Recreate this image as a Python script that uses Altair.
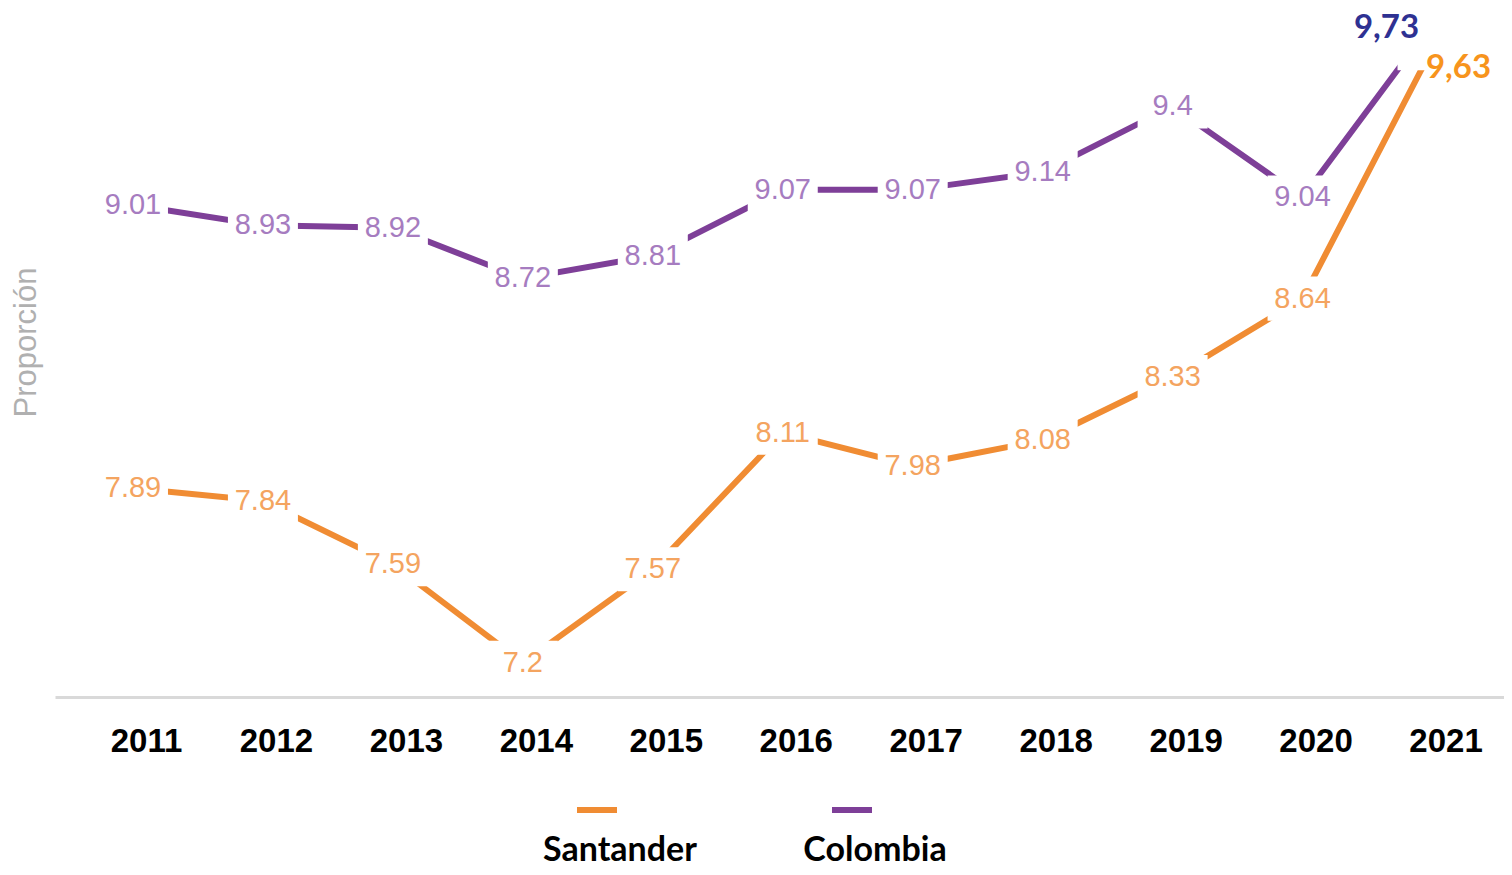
import altair as alt
import pandas as pd

years = [2011, 2012, 2013, 2014, 2015, 2016, 2017, 2018, 2019, 2020, 2021]
santander = [7.89, 7.84, 7.59, 7.2, 7.57, 8.11, 7.98, 8.08, 8.33, 8.64, 9.63]
colombia = [9.01, 8.93, 8.92, 8.72, 8.81, 9.07, 9.07, 9.14, 9.4, 9.04, 9.73]
santander_labels = ["7.89", "7.84", "7.59", "7.2", "7.57", "8.11", "7.98", "8.08", "8.33", "8.64", "9,63"]
colombia_labels = ["9.01", "8.93", "8.92", "8.72", "8.81", "9.07", "9.07", "9.14", "9.4", "9.04", "9,73"]
series_names = ["Santander", "Colombia"]
line_colors = ["#f08c33", "#7e3f98"]

rows = []
for y, v, l in zip(years, santander, santander_labels):
    rows.append({"year": y, "value": v, "label": l, "serie": "Santander"})
for y, v, l in zip(years, colombia, colombia_labels):
    rows.append({"year": y, "value": v, "label": l, "serie": "Colombia"})
df = pd.DataFrame(rows)

x = alt.X("year:Q",
          scale=alt.Scale(domain=[2010.4, 2021.55], nice=False, zero=False),
          axis=alt.Axis(values=years, format="d", title=None, grid=False, ticks=False,
                        domainColor="#d9d9d9", domainWidth=3,
                        labelFont="Liberation Sans", labelFontWeight="bold",
                        labelFontSize=33, labelColor="#000000", labelPadding=28,
                        labelOffset=13))
y = alt.Y("value:Q",
          scale=alt.Scale(domain=[7.065, 9.789], nice=False, zero=False),
          axis=alt.Axis(title="Proporción", labels=False, ticks=False, domain=False, grid=False,
                        titleFont="Liberation Sans", titleFontWeight="normal", titleFontSize=31,
                        titleColor="#b0b0b0", titleX=-13, titleY=334))

base = alt.Chart(df)

lines = base.mark_line(strokeWidth=6).encode(
    x=x, y=y,
    color=alt.Color("serie:N",
                    scale=alt.Scale(domain=series_names, range=line_colors),
                    legend=alt.Legend(title=None, orient="none", direction="horizontal",
                                      legendX=499, legendY=820,
                                      symbolType="M-1,-2.05L1,-2.05", symbolSize=1600,
                                      symbolStrokeWidth=6, symbolOffset=20,
                                      labelFont="Lato", labelFontWeight="bold", labelFontSize=34,
                                      labelColor="#000000", labelAlign="center", labelOffset=0,
                                      labelLimit=400, columnPadding=106)),
    detail="serie:N",
)

boxes = base.mark_point(shape="M-1,-0.63L1,-0.63L1,0.63L-1,0.63Z", size=4900,
                        filled=True, color="white", opacity=1).encode(x=x, y=y)

regular = df[df["year"] < 2021]
txt_s = alt.Chart(regular[regular["serie"] == "Santander"]).mark_text(
    font="Liberation Sans", fontSize=29, color="#f4a460").encode(x=x, y=y, text="label:N")
txt_c = alt.Chart(regular[regular["serie"] == "Colombia"]).mark_text(
    font="Liberation Sans", fontSize=29, color="#a67cc0").encode(x=x, y=y, text="label:N")

last = df[df["year"] == 2021]
end_c = alt.Chart(last[last["serie"] == "Colombia"]).mark_text(
    font="Lato", fontWeight="bold", fontSize=33, color="#2e3192", dx=-46, dy=5
).encode(x=x, y=y, text="label:N")
end_s = alt.Chart(last[last["serie"] == "Santander"]).mark_text(
    font="Lato", fontWeight="bold", fontSize=33, color="#f7941d", dx=26, dy=20
).encode(x=x, y=y, text="label:N")

chart = alt.layer(lines, boxes, txt_s, txt_c, end_c, end_s).properties(
    width=1449, height=689,
    autosize=alt.AutoSizeParams(type="none"),
    padding={"left": 47, "top": 0, "right": 0, "bottom": 170},
).configure_view(stroke=None)

chart.save("out.html", embed_options={"renderer": "svg", "actions": False})
